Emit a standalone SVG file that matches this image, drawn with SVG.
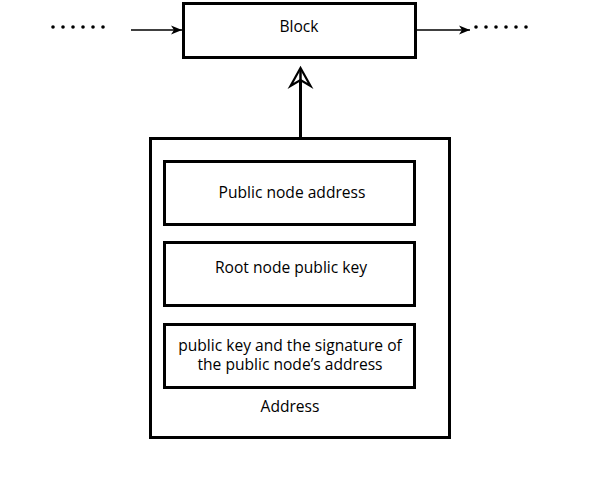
<svg xmlns="http://www.w3.org/2000/svg" width="600" height="500" viewBox="0 0 600 500">
  <style>
    .box { fill: #fff; stroke: #000; stroke-width: 3; }
    .lbl { font-family: "Open Sans", "Liberation Sans", sans-serif; font-size: 15.6px; fill: #000; text-anchor: middle; }
    .wire { stroke: #000; stroke-width: 1.4; fill: none; }
    .dot { fill: #000; }
  </style>
  <defs>
    <marker id="ah" markerWidth="12" markerHeight="10" refX="11" refY="5" orient="auto" markerUnits="userSpaceOnUse">
      <path d="M0,0.5 L11,5 L0,9.5 L3,5 Z" fill="#000"/>
    </marker>
  </defs>

  <g id="connectors">
    <line class="wire" x1="131" y1="30" x2="182" y2="30" marker-end="url(#ah)"/>
    <line class="wire" x1="417" y1="30" x2="470" y2="30" marker-end="url(#ah)"/>
    <line x1="300.5" y1="137" x2="300.5" y2="70" stroke="#000" stroke-width="3"/>
    <path d="M290.5,86 L300.5,68 L310.5,86 L300.5,80 Z" fill="#fff" stroke="#000" stroke-width="2.2" stroke-linejoin="miter"/>
    <line x1="300.5" y1="82" x2="300.5" y2="70" stroke="#000" stroke-width="2.5"/>
  </g>

  <g id="dots-left">
    <circle class="dot" cx="53" cy="27" r="1.8"/>
    <circle class="dot" cx="63" cy="27" r="1.8"/>
    <circle class="dot" cx="73" cy="27" r="1.8"/>
    <circle class="dot" cx="83" cy="27" r="1.8"/>
    <circle class="dot" cx="93" cy="27" r="1.8"/>
    <circle class="dot" cx="103" cy="27" r="1.8"/>
  </g>
  <g id="dots-right">
    <circle class="dot" cx="476" cy="27" r="1.8"/>
    <circle class="dot" cx="486" cy="27" r="1.8"/>
    <circle class="dot" cx="496" cy="27" r="1.8"/>
    <circle class="dot" cx="506" cy="27" r="1.8"/>
    <circle class="dot" cx="516" cy="27" r="1.8"/>
    <circle class="dot" cx="526" cy="27" r="1.8"/>
  </g>

  <g id="block">
    <rect class="box" x="183.5" y="3.5" width="232" height="54"/>
    <text class="lbl" x="299" y="32">Block</text>
  </g>

  <g id="address">
    <rect class="box" x="150.5" y="138.5" width="299" height="299"/>
    <text class="lbl" x="290" y="412">Address</text>
  </g>

  <g id="public-node-address">
    <rect class="box" x="164.5" y="161.5" width="250" height="63"/>
    <text class="lbl" x="292" y="198">Public node address</text>
  </g>

  <g id="root-node-public-key">
    <rect class="box" x="164.5" y="242.5" width="250" height="63"/>
    <text class="lbl" x="291" y="273">Root node public key</text>
  </g>

  <g id="public-key-signature">
    <rect class="box" x="164.5" y="324.5" width="250" height="63"/>
    <text class="lbl" x="290" y="351">public key and the signature of</text>
    <text class="lbl" x="290" y="370">the public node’s address</text>
  </g>
</svg>
